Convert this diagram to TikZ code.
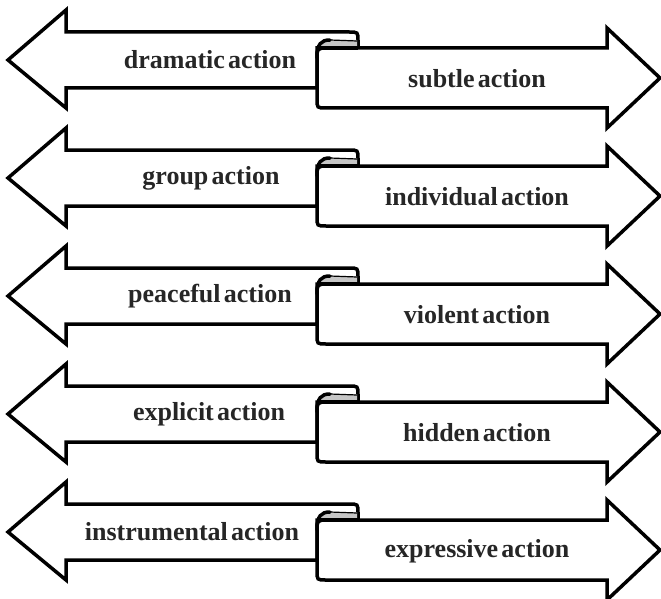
\documentclass[tikz,border=0pt]{standalone}
\usepackage{fontspec}
\setmainfont{Liberation Serif}[WordSpace=0.5]
\usetikzlibrary{positioning}
\begin{document}
\begin{tikzpicture}[x=1pt,y=-1pt]
      \tikzset{
         banner/.style = {
            draw, fill=white,
            line width=3.5pt, line join=miter
         },
         curlfill/.style = {
            fill=gray!45
         },
         label/.style = {
            inner sep=0pt, text=black!85,
            font=\bfseries\fontsize{26}{26}\selectfont
         }
      }
      \useasboundingbox (0,0) rectangle (661,599);
      \foreach \i/\lx/\lft/\rgt in {0/210/dramatic action/subtle action,
                                   1/211/group action/individual action,
                                   2/210/peaceful action/violent action,
                                   3/209/explicit action/hidden action,
                                   4/192/instrumental action/expressive action}{
        \begin{scope}[yshift=-118*\i pt]
          % left banner
          \filldraw[banner] (8,60) -- (66,10) -- (66,32) -- (349,32)
            .. controls (358,32) .. (358,41) -- (358,48) -- (317,48)
            -- (317,88) -- (66,88) -- (66,108) -- cycle ;
          % right banner
          \filldraw[banner] (322,48) -- (607,48) -- (607,28) -- (660,78)
            -- (607,128) -- (607,108) -- (326,108)
            .. controls (317,108) .. (317,99) -- (317,56)
            .. controls (317,50) .. (322,48) -- cycle ;
          % curl
          \fill[curlfill] (319,48) .. controls (319,43) and (322,40) .. (330,40)
            -- (357,40) -- (357,48) -- cycle ;
          \draw[line width=1.2pt] (330,40) -- (357,41) ;
          \draw[line width=3.5pt, line cap=round] (317,58)
            .. controls (317,44) and (321,40) .. (330,40) ;
          \draw[line width=3.5pt] (320,48) -- (358,48) ;
          \node[label] (lft\i) at (\lx,60) {\lft} ;
          \node[label] (rgt\i) at (477,79) {\rgt} ;
        \end{scope}
      }
    \end{tikzpicture}
\end{document}
